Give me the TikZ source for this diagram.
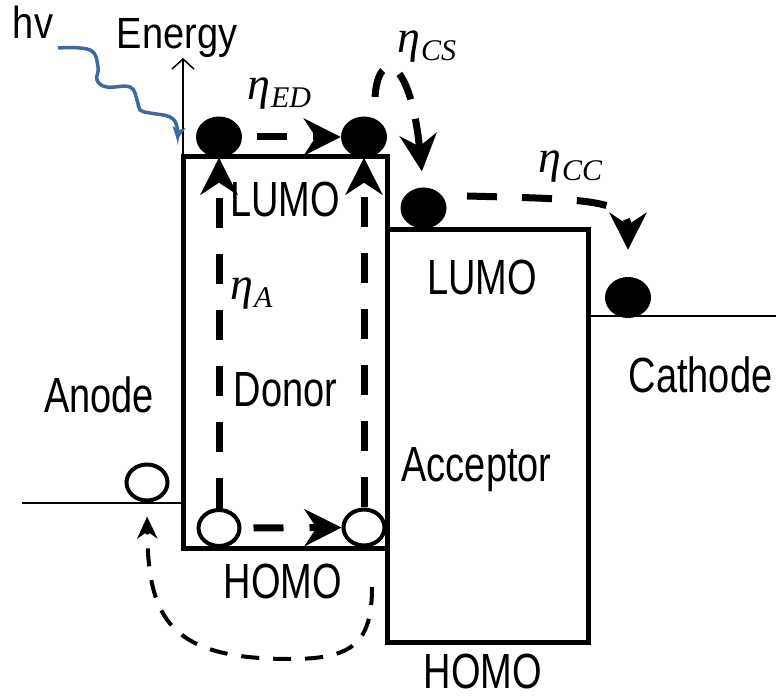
\documentclass[tikz,border=0pt]{standalone}
\usepackage{fontspec}
\setmainfont{Liberation Sans}
\newfontfamily\etafont{Liberation Serif}
\usepackage{graphicx}
\usetikzlibrary{arrows.meta,shapes.geometric}
\definecolor{wavecol}{RGB}{65,105,160}
\newcommand{\tallt}[1]{\scalebox{1}[1.3]{#1}}
\newcommand{\etalbl}[1]{{\fontsize{46}{50}\selectfont\etafont\itshape η}\kern1pt\raisebox{-8pt}{\fontsize{30}{32}\selectfont\etafont\itshape #1}}
\begin{document}
\begin{tikzpicture}[x=1pt,y=1pt,
 lbl/.style={inner sep=0pt, anchor=base, font=\fontsize{38}{40}\selectfont},
 eta/.style={inner sep=0pt, anchor=base west},
 box/.style={line width=5pt, line join=miter},
 level/.style={line width=2pt},
 elec/.style={ellipse, fill=black, minimum width=46pt, minimum height=41pt, inner sep=0pt},
 hole/.style={ellipse, draw=black, fill=white, line width=4pt, minimum width=41pt, minimum height=36pt, inner sep=0pt},
 flow/.style={line width=7pt, dash pattern=on 30pt off 26pt, -{Stealth[length=37pt,width=37pt,inset=12pt]}},
 back/.style={line width=4pt, dash pattern=on 18pt off 14pt, -{Stealth[length=22pt,width=20pt,inset=7pt]}},
]
\useasboundingbox (0,0) rectangle (776,699);
% levels and boxes
\draw[level] (22,196) -- (183,196);
\draw[level] (588,383) -- (776,383);
\draw[box] (183,151) rectangle (387,542);
\draw[box] (387,57) rectangle (588,469);
% energy axis
\coordinate (axbot) at (183,542);
\coordinate (axtop) at (183,641);
\draw[line width=1.5pt, -{Straight Barb[length=10pt,width=22pt]}] (axbot) -- (axtop);
% photon
\draw[wavecol, line width=3.5pt, -{Stealth[length=13pt,width=13pt,inset=3pt]}] plot[smooth, tension=0.7] coordinates {(58,651) (90,649) (98,632) (97,619) (107,612) (130,612) (137,599) (140,589) (150,586) (170,582) (177,572) (177,559)};
% electrons and holes
\node[elec] (e1) at (219,562) {};
\node[elec] (e2) at (364,562) {};
\node[elec] (ea) at (423.5,491) {};
\node[elec] (ec) at (628,401.5) {};
\node[hole] (h1) at (219,171) {};
\node[hole] (h2) at (364,171.5) {};
\node[hole] (ha) at (147,216.5) {};
% transfers
\draw[flow, shorten <=15pt] (e1) -- (e2);
\draw[flow, shorten <=12pt] (h1) -- (h2);
\draw[flow] (h1) -- (e1);
\draw[flow] (h2) -- (e2);
\coordinate (cs0) at (375,602);
\draw[flow, dash pattern=on 28pt off 20pt, shorten >=16pt] (cs0) .. controls (378,650) and (410,645) .. (ea.north);
\coordinate (cc0) at (467,503);
\draw[flow, dash pattern=on 30pt off 25pt, shorten >=27pt] (cc0) .. controls (580,500) and (628,500) .. (ec.north);
\coordinate (bk0) at (372,112);
\draw[back, shorten >=14pt] (bk0) .. controls (372,55) and (352,40) .. (290,40) .. controls (170,40) and (148,80) .. (ha.south);
% labels
\node[lbl] (hv) at (33,660) {\scalebox{1}[1.18]{hv}};
\node[lbl] (energy) at (177,650) {\scalebox{1}[1.15]{Energy}};
\node[lbl] (lumoD) at (285,482) {\tallt{LUMO}};
\node[lbl] (donor) at (285.5,292) {\tallt{Donor}};
\node[lbl] (homoD) at (283,101) {\tallt{HOMO}};
\node[lbl] (lumoA) at (482,404) {\tallt{LUMO}};
\node[lbl] (acc) at (476.5,217) {\tallt{Acceptor}};
\node[lbl] (homoA) at (483,11) {\tallt{HOMO}};
\node[lbl] (anode) at (99,286) {\tallt{Anode}};
\node[lbl] (cathode) at (700.5,306) {\tallt{Cathode}};
\node[eta] (etaED) at (247,599) {\etalbl{ED}};
\node[eta] (etaCS) at (397,646) {\etalbl{CS}};
\node[eta] (etaCC) at (538,526) {\etalbl{CC}};
\node[eta] (etaA) at (230,399) {\etalbl{A}};
\end{tikzpicture}
\end{document}
